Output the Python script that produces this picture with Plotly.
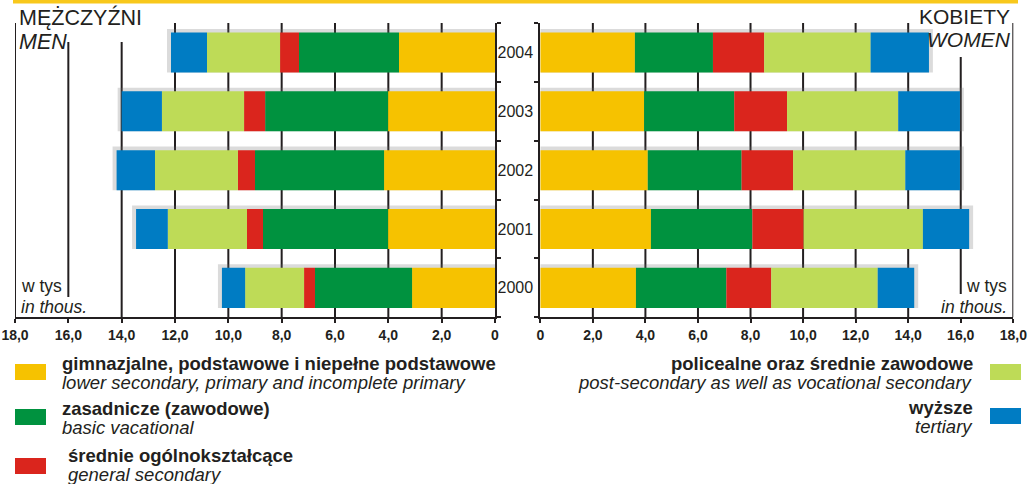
import plotly.graph_objects as go

# ---------------- data ----------------
years = ["2000", "2001", "2002", "2003", "2004"]
categories_pl = ["gimnazjalne, podstawowe i niepełne podstawowe",
                 "zasadnicze (zawodowe)",
                 "średnie ogólnokształcące",
                 "policealne oraz średnie zawodowe",
                 "wyższe"]
categories_en = ["lower secondary, primary and incomplete primary",
                 "basic vacational",
                 "general secondary",
                 "post-secondary as well as vocational secondary",
                 "tertiary"]
colors = ["#F6C200", "#00923F", "#DA251D", "#BEDB57", "#007CC3"]

# men (thousands), order: years 2000..2004
men_lower = [3.11, 4.01, 4.16, 4.01, 3.60]
men_basic = [3.64, 4.69, 4.84, 4.61, 3.75]
men_gensec = [0.41, 0.60, 0.64, 0.79, 0.71]
men_postsec = [2.21, 2.97, 3.11, 3.08, 2.74]
men_tertiary = [0.87, 1.19, 1.44, 1.51, 1.35]

# women (thousands)
women_lower = [3.64, 4.21, 4.09, 3.95, 3.60]
women_basic = [3.44, 3.86, 3.57, 3.43, 2.97]
women_gensec = [1.71, 1.95, 1.96, 2.01, 1.95]
women_postsec = [4.05, 4.54, 4.27, 4.23, 4.05]
women_tertiary = [1.39, 1.76, 2.08, 2.35, 2.22]

tick_vals = [0, 2, 4, 6, 8, 10, 12, 14, 16, 18]
tick_text = ["0", "2,0", "4,0", "6,0", "8,0", "10,0", "12,0", "14,0", "16,0", "18,0"]

men = [men_lower, men_basic, men_gensec, men_postsec, men_tertiary]
women = [women_lower, women_basic, women_gensec, women_postsec, women_tertiary]

W, H = 1030, 484
INK = "#231F20"
FONT = "Liberation Sans, Arial, sans-serif"


def PX(x):
    return x / W


def PY(y):
    return 1 - y / H


fig = go.Figure()

BAR_W = 0.68


def add_panel(series, xa, ya):
    totals = [sum(v) for v in zip(*series)]
    # soft shadow behind each bar
    fig.add_trace(go.Bar(
        y=years, x=[t + 0.15 for t in totals], base=[0] * len(years),
        orientation="h", width=0.74, offset=-0.34,
        marker=dict(color="rgba(110,110,110,0.25)", line=dict(width=0)),
        xaxis=xa, yaxis=ya, showlegend=False, hoverinfo="skip"))
    base = [0.0] * len(years)
    for vals, col, name in zip(series, colors, categories_pl):
        fig.add_trace(go.Bar(
            y=years, x=vals, base=list(base), orientation="h",
            width=BAR_W, marker=dict(color=col, line=dict(width=0)),
            name=name, xaxis=xa, yaxis=ya, showlegend=False))
        base = [b + v for b, v in zip(base, vals)]


add_panel(men, "x", "y")
add_panel(women, "x2", "y2")

y_bottom_px, y_top_px = 317.3, 23.0

axis_common = dict(
    tickvals=tick_vals, ticktext=tick_text,
    showline=True, linecolor=INK, linewidth=2,
    ticks="outside", ticklen=4, tickwidth=2, tickcolor=INK,
    tickfont=dict(family=FONT, size=14, color=INK, weight="bold"),
    showgrid=False, zeroline=False, fixedrange=True, automargin=False,
)

fig.update_layout(
    width=W, height=H, autosize=False,
    margin=dict(l=0, r=0, t=0, b=0, pad=0),
    paper_bgcolor="white", plot_bgcolor="rgba(0,0,0,0)",
    barmode="overlay", showlegend=False,
    font=dict(family=FONT, color=INK),
    xaxis=dict(domain=[PX(15), PX(495)], range=[18, 0], anchor="y", **axis_common),
    xaxis2=dict(domain=[PX(540.3), PX(1013.3)], range=[0, 18], anchor="y2", **axis_common),
    yaxis=dict(domain=[PY(y_bottom_px), PY(y_top_px)], type="category",
               categoryorder="array", categoryarray=years,
               range=[-0.5, 4.5], anchor="x", side="right",
               showline=True, linecolor=INK, linewidth=2,
               ticks="outside", ticklen=4, tickwidth=1.5, tickcolor=INK,
               tickson="boundaries", showticklabels=False, showgrid=False,
               automargin=False),
    yaxis2=dict(domain=[PY(y_bottom_px), PY(y_top_px)], type="category",
                categoryorder="array", categoryarray=years,
                range=[-0.5, 4.5], anchor="x2", side="left",
                showline=True, linecolor=INK, linewidth=2,
                ticks="outside", ticklen=4, tickwidth=1.5, tickcolor=INK,
                tickson="boundaries", showticklabels=True,
                tickfont=dict(family=FONT, size=16, color=INK),
                ticklabelstandoff=2, showgrid=False, automargin=False),
)

shapes = []
# vertical grid lines (drawn behind bars)
left_extent = {16: (42, 297), 14: (42, y_bottom_px)}
right_extent = {16: (57, 294)}
for v in tick_vals[1:]:
    t, b = left_extent.get(v, (y_top_px, y_bottom_px))
    shapes.append(dict(type="line", xref="x", yref="paper", x0=v, x1=v,
                       y0=PY(b), y1=PY(t), line=dict(color=INK, width=2), layer="below"))
    t, b = right_extent.get(v, (y_top_px, y_bottom_px))
    shapes.append(dict(type="line", xref="x2", yref="paper", x0=v, x1=v,
                       y0=PY(b), y1=PY(t), line=dict(color=INK, width=2), layer="below"))

# yellow band at the very top
shapes.append(dict(type="rect", xref="paper", yref="paper",
                   x0=PX(13), x1=PX(1018), y0=PY(3.5), y1=PY(0),
                   fillcolor="#F8C81C", line=dict(width=0)))

annotations = []


def txt(x, y, s, size, anchor="left", bold=False, italic=False):
    annotations.append(dict(
        xref="paper", yref="paper", x=PX(x), y=PY(y), text=s, showarrow=False,
        xanchor=anchor, yanchor="middle",
        font=dict(family=FONT, size=size, color=INK,
                  weight="bold" if bold else "normal",
                  style="italic" if italic else "normal")))


txt(17, 18, "MĘŻCZYŹNI", 21.5)
txt(17, 42, "MEN", 21.5, italic=True)
txt(1012, 16, "KOBIETY", 21, anchor="right")
txt(1013, 40, "WOMEN", 21, anchor="right", italic=True)

txt(19, 286, "w tys", 17.5)
txt(19, 307, "in thous.", 17.5, italic=True)
txt(1009, 286, "w tys", 17.5, anchor="right")
txt(1009, 307, "in thous.", 17.5, anchor="right", italic=True)

# legend (drawn manually)
left_items = [(0, 364, 60, 0), (1, 409, 60, 0), (2, 458, 66, 2)]
for idx, ytop, tx, lift in left_items:
    shapes.append(dict(type="rect", xref="paper", yref="paper",
                       x0=PX(15), x1=PX(46), y0=PY(ytop + 16), y1=PY(ytop),
                       fillcolor=colors[idx], line=dict(width=0)))
    txt(tx, ytop - 1 - lift, categories_pl[idx], 18.5, bold=True)
    txt(tx, ytop + 18 - lift, categories_en[idx], 18.5, italic=True)

right_items = [(3, 364), (4, 408)]
for idx, ytop in right_items:
    shapes.append(dict(type="rect", xref="paper", yref="paper",
                       x0=PX(990), x1=PX(1021), y0=PY(ytop + 16), y1=PY(ytop),
                       fillcolor=colors[idx], line=dict(width=0)))
    txt(975, ytop - 1, categories_pl[idx], 18.5, anchor="right", bold=True)
    txt(975, ytop + 18, categories_en[idx], 18.5, anchor="right", italic=True)

fig.update_layout(shapes=shapes, annotations=annotations)

fig.write_html(
    "out.html",
    config={"displayModeBar": False},
    post_script="document.body.style.margin='0';document.body.style.padding='0';",
)
